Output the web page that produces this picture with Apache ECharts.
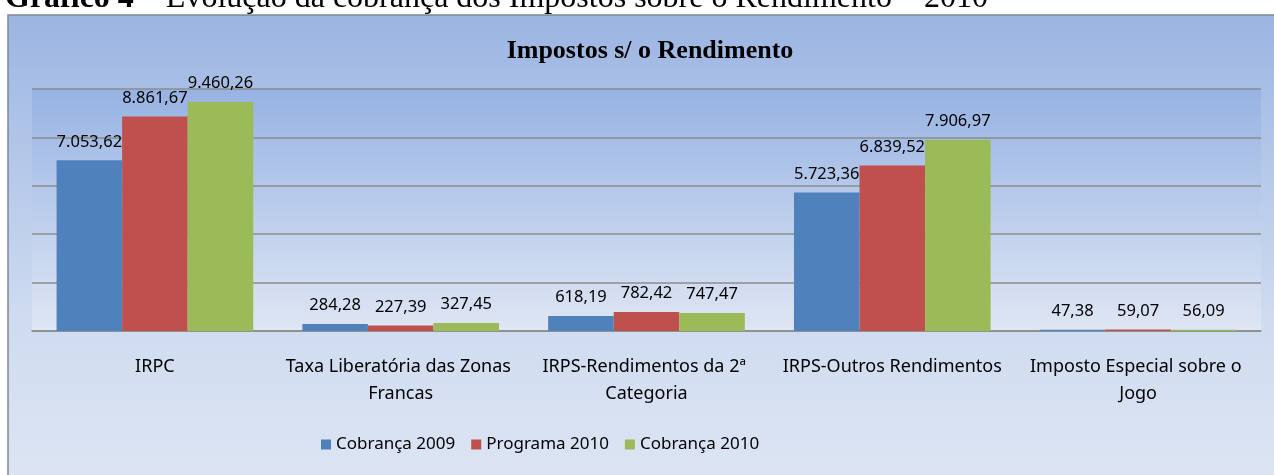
<!DOCTYPE html>
<html>
<head>
<meta charset="utf-8">
<script src="https://cdn.jsdelivr.net/npm/echarts@6/dist/echarts.min.js"></script>
<style>
  html, body { margin: 0; padding: 0; background: #fff; }
  #chart { width: 1274px; height: 475px; }
</style>
</head>
<body>
<div id="chart"></div>
<script>
const categories = [
  'IRPC',
  'Taxa Liberatória das Zonas Francas',
  'IRPS-Rendimentos da 2ª Categoria',
  'IRPS-Outros Rendimentos',
  'Imposto Especial sobre o Jogo'
]
const cobranca2009 = [7053.62, 284.28, 618.19, 5723.36, 47.38]
const programa2010 = [8861.67, 227.39, 782.42, 6839.52, 59.07]
const cobranca2010 = [9460.26, 327.45, 747.47, 7906.97, 56.09]
const seriesNames = ['Cobrança 2009', 'Programa 2010', 'Cobrança 2010']
const colors = ['#4f81bd', '#c0504d', '#9bbb59']

const labelFont = 'Noto Sans'

// 7053.62 -> 7.053,62
const fmt = v => {
  const [int, dec] = v.toFixed(2).split('.')
  return int.replace(/\B(?=(\d{3})+(?!\d))/g, '.') + ',' + dec
}

const barSeries = (name, data) => ({
  name,
  type: 'bar',
  barGap: '0%',
  barCategoryGap: '20%',
  data,
  label: {
    show: true,
    position: 'top',
    distance: 10,
    formatter: p => fmt(p.value),
    fontFamily: labelFont,
    fontSize: 16.5,
    color: '#000'
  }
})

const chart = echarts.init(document.getElementById('chart'))
chart.setOption({
  animation: false,
  color: colors,
  graphic: [
    {
      type: 'rect',
      z: -100,
      shape: { x: 8, y: 15, width: 1300, height: 500 },
      style: {
        fill: new echarts.graphic.LinearGradient(0, 0, 0, 1, [
          { offset: 0, color: '#9bb5e2' },
          { offset: 0.6, color: '#cedbf0' },
          { offset: 1, color: '#e0e7f4' }
        ]),
        stroke: '#7f8796',
        lineWidth: 1.5
      }
    },
    {
      type: 'text',
      left: 5,
      top: -17,
      style: {
        text: '{b|Gráfico 4} – Evolução da cobrança dos Impostos sobre o Rendimento – 2010',
        font: '32px "Liberation Serif"',
        fill: '#000',
        rich: {
          b: { fontWeight: 'bold', fontSize: 32, fontFamily: 'Liberation Serif' }
        }
      }
    }
  ],
  title: {
    text: 'Impostos s/ o Rendimento',
    left: 645,
    textAlign: 'center',
    top: 33,
    textStyle: {
      fontFamily: 'Liberation Serif',
      fontWeight: 'bold',
      fontSize: 26,
      color: '#000'
    }
  },
  legend: {
    left: 316,
    top: 431,
    icon: 'rect',
    itemWidth: 10,
    itemHeight: 10,
    itemGap: 16,
    data: seriesNames,
    textStyle: { fontFamily: labelFont, fontSize: 17, color: '#000' }
  },
  grid: {
    left: 32,
    right: 13,
    top: 89,
    bottom: 144,
    show: true,
    borderWidth: 0,
    backgroundColor: new echarts.graphic.LinearGradient(0, 0, 0, 1, [
      { offset: 0, color: '#97b3e3' },
      { offset: 1, color: '#dfe6f4' }
    ])
  },
  xAxis: {
    type: 'category',
    data: categories,
    axisLine: { lineStyle: { color: '#8c8c8c', width: 1.5 } },
    axisTick: { show: false },
    axisLabel: {
      interval: 0,
      margin: 22,
      width: 245,
      overflow: 'break',
      lineHeight: 27,
      fontFamily: labelFont,
      fontSize: 18,
      color: '#000'
    }
  },
  yAxis: {
    type: 'value',
    min: 0,
    max: 10000,
    interval: 2000,
    axisLabel: { show: false },
    axisLine: { show: false },
    axisTick: { show: false },
    splitLine: { lineStyle: { color: '#8c8c8c', width: 1.5 } }
  },
  series: [
    barSeries(seriesNames[0], cobranca2009),
    barSeries(seriesNames[1], programa2010),
    barSeries(seriesNames[2], cobranca2010)
  ]
})
</script>
</body>
</html>
